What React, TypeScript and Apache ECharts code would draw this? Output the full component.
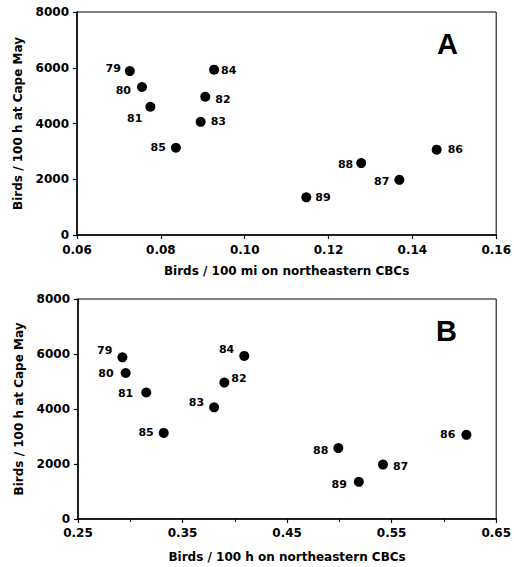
import React, { useEffect, useRef } from "react";
import * as echarts from "echarts";

const years = ["79", "80", "81", "82", "83", "84", "85", "86", "87", "88", "89"];
const capeMay = [5880, 5310, 4600, 4960, 4060, 5930, 3130, 3060, 1980, 2580, 1350];
const cbcMiles = [0.0726, 0.0755, 0.0775, 0.0906, 0.0895, 0.0927, 0.0836, 0.1458, 0.1369, 0.1278, 0.1147];
const cbcHours = [0.2925, 0.2956, 0.3153, 0.39, 0.3802, 0.409, 0.332, 0.6215, 0.5417, 0.499, 0.5186];

// label placement: [position, distance, dx, dy]
const labelA: [string, number, number, number][] = [
  ["left", 4, 0, -3],
  ["left", 6, 0, 4],
  ["left", 3, 0, 12],
  ["right", 5, 0, 3],
  ["right", 5, 0, 0],
  ["right", 2, 0, 1],
  ["left", 5, 0, 0],
  ["right", 6, 0, 0],
  ["left", 5, 0, 2],
  ["left", 3, 0, 1],
  ["right", 4, 0, 0],
];
const labelB: [string, number, number, number][] = [
  ["left", 5, 0, -7],
  ["left", 7, 0, 1],
  ["left", 8, 0, 1],
  ["right", 2, 0, -4],
  ["left", 5, 0, -5],
  ["left", 5, 0, -6],
  ["left", 5, 0, 0],
  ["left", 6, 0, 0],
  ["right", 5, 0, 2],
  ["left", 5, 0, 2],
  ["left", 7, 0, 3],
];

const FONT = "DejaVu Sans";

function makeData(xs: number[], lab: [string, number, number, number][]) {
  return xs.map((x, i) => ({
    value: [x, capeMay[i]],
    name: years[i],
    label: {
      position: lab[i][0],
      distance: lab[i][1],
      offset: [lab[i][2], lab[i][3]],
    },
  }));
}

function axisCommon() {
  return {
    axisLine: { show: true, onZero: false, lineStyle: { color: "#000", width: 1.5 } },
    axisTick: { show: true, inside: false, length: 4, lineStyle: { color: "#000", width: 1.2 } },
    splitLine: { show: false },
    axisLabel: { color: "#000", fontFamily: FONT, fontWeight: "bold" as const, fontSize: 12 },
    nameTextStyle: { color: "#000", fontFamily: FONT, fontWeight: "bold" as const, fontSize: 12 },
  };
}

export default function App() {
  const ref = useRef<HTMLDivElement>(null);
  useEffect(() => {
    if (!ref.current) return;
    const chart = echarts.init(ref.current, null, { renderer: "svg" });
    const scatterLabel = {
      show: true,
      formatter: "{b}",
      color: "#000",
      fontFamily: FONT,
      fontWeight: "bold" as const,
      fontSize: 11,
    };
    const yLabel = { ...axisCommon().axisLabel, margin: 8, formatter: (v: number) => String(v) };
    chart.setOption({
      animation: false,
      backgroundColor: "#fff",
      grid: [
        { left: 77, top: 12, width: 422, height: 223, show: true, borderColor: "#000", borderWidth: 1, backgroundColor: "transparent" },
        { left: 78, top: 299, width: 421, height: 220, show: true, borderColor: "#000", borderWidth: 1, backgroundColor: "transparent" },
      ],
      xAxis: [
        {
          ...axisCommon(),
          type: "value",
          gridIndex: 0,
          min: 0.06,
          max: 0.16,
          interval: 0.02,
          name: "Birds / 100 mi on northeastern CBCs",
          nameLocation: "middle",
          nameGap: 30,
          axisLabel: { ...axisCommon().axisLabel, margin: 9, formatter: (v: number) => v.toFixed(2) },
        },
        {
          ...axisCommon(),
          type: "value",
          gridIndex: 1,
          min: 0.25,
          max: 0.65,
          interval: 0.1,
          name: "Birds / 100 h on northeastern CBCs",
          nameLocation: "middle",
          nameGap: 32,
          minorTick: { show: true, splitNumber: 2, length: 3, lineStyle: { color: "#000", width: 1 } },
          axisLabel: { ...axisCommon().axisLabel, margin: 8, formatter: (v: number) => v.toFixed(2) },
        },
      ],
      yAxis: [
        {
          ...axisCommon(),
          type: "value",
          gridIndex: 0,
          min: 0,
          max: 8000,
          interval: 2000,
          name: "Birds / 100 h at Cape May",
          nameLocation: "middle",
          nameGap: 53,
          axisLabel: yLabel,
        },
        {
          ...axisCommon(),
          type: "value",
          gridIndex: 1,
          min: 0,
          max: 8000,
          interval: 2000,
          name: "Birds / 100 h at Cape May",
          nameLocation: "middle",
          nameGap: 53,
          axisLabel: yLabel,
        },
      ],
      graphic: [
        { type: "text", left: 437, top: 29, style: { text: "A", font: "bold 29px 'Liberation Sans'", fill: "#000" } },
        { type: "text", left: 436, top: 316, style: { text: "B", font: "bold 29px 'Liberation Sans'", fill: "#000" } },
      ],
      series: [
        {
          type: "scatter",
          xAxisIndex: 0,
          yAxisIndex: 0,
          symbolSize: 10,
          itemStyle: { color: "#000", opacity: 1 },
          label: scatterLabel,
          data: makeData(cbcMiles, labelA),
        },
        {
          type: "scatter",
          xAxisIndex: 1,
          yAxisIndex: 1,
          symbolSize: 10,
          itemStyle: { color: "#000", opacity: 1 },
          label: scatterLabel,
          data: makeData(cbcHours, labelB),
        },
      ],
    });
    return () => chart.dispose();
  }, []);
  return (
    <div
      ref={ref}
      style={{ position: "absolute", left: 0, top: 0, width: 514, height: 567, background: "#fff" }}
    />
  );
}
